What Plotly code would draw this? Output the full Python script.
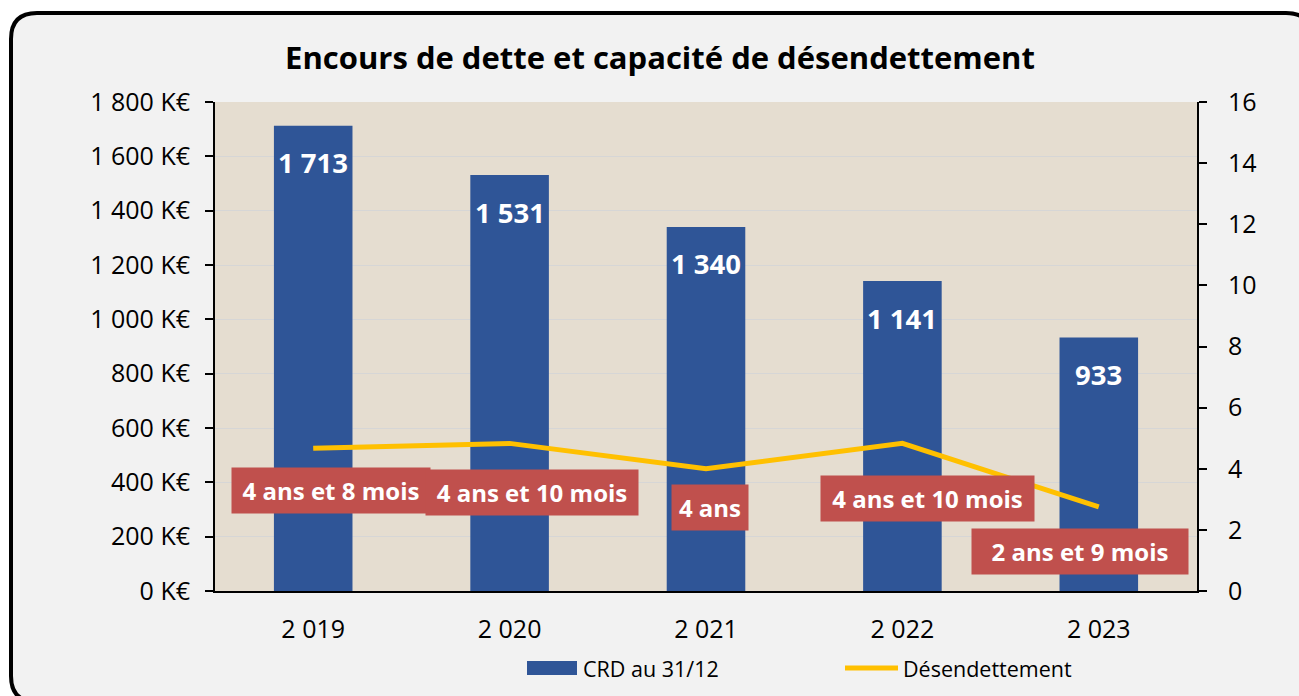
import plotly.graph_objects as go

# ---- data ----
years = ["2 019", "2 020", "2 021", "2 022", "2 023"]
crd = [1713, 1531, 1340, 1141, 933]
desendettement = [4.67, 4.83, 4.0, 4.83, 2.75]
desend_labels = ["4 ans et 8 mois", "4 ans et 10 mois", "4 ans", "4 ans et 10 mois", "2 ans et 9 mois"]
series_names = ["CRD au 31/12", "Désendettement"]

# ---- label layout (pixels) ----
label_shift_x = [18, 22, 4, 25, -19]
label_shift_y = [-42, -49, -39, -55, -45]
label_box_w = [198, 212, 76, 213, 216]

W, H = 1299, 696
ML, MR, MT, MB = 215, 102, 102, 105
PW, PH = W - ML - MR, H - MT - MB

FONT = "Open Sans"
BLUE = "#2f5597"
GOLD = "#ffc000"
PAD = 6

def px(x):
    return (x - ML) / PW

def py(y):
    return (H - MB - y) / PH

fig = go.Figure()
fig.add_trace(go.Bar(
    x=years, y=crd, name=series_names[0],
    marker=dict(color=BLUE, line=dict(width=0)),
    yaxis="y", hoverinfo="skip", showlegend=False,
))
fig.add_trace(go.Scatter(
    x=years, y=desendettement, name=series_names[1],
    mode="lines", line=dict(color=GOLD, width=5),
    yaxis="y2", hoverinfo="skip", showlegend=False,
))

annotations = []
for yr, v in zip(years, crd):
    annotations.append(dict(
        x=yr, y=v, xref="x", yref="y", text=f"{v:,}".replace(",", " "),
        showarrow=False, yshift=-37,
        font=dict(family=FONT, size=27.5, color="white", weight="bold"),
    ))
for yr, v, lab, dx, dy, bw in zip(years, desendettement, desend_labels,
                                  label_shift_x, label_shift_y, label_box_w):
    annotations.append(dict(
        x=yr, y=v, xref="x", yref="y2", text=lab,
        showarrow=False, xshift=dx, yshift=dy, width=bw - 2 * PAD, align="center",
        font=dict(family=FONT, size=24, color="white", weight="bold"),
        bgcolor="#c0504d", borderpad=PAD,
    ))

# manual legend
annotations.append(dict(x=px(581), y=py(668), xref="paper", yref="paper", text=series_names[0],
                        showarrow=False, xanchor="left", yanchor="middle",
                        font=dict(family=FONT, size=21.5, color="black")))
annotations.append(dict(x=px(901), y=py(668), xref="paper", yref="paper", text=series_names[1],
                        showarrow=False, xanchor="left", yanchor="middle",
                        font=dict(family=FONT, size=21.5, color="black")))

# rounded frame
L, T, R, B, r = 11, 13, 1312, 702, 26
def rr_path():
    return (f"M {px(L + r)} {py(T)} L {px(R - r)} {py(T)} "
            f"Q {px(R)} {py(T)} {px(R)} {py(T + r)} L {px(R)} {py(B - r)} "
            f"Q {px(R)} {py(B)} {px(R - r)} {py(B)} L {px(L + r)} {py(B)} "
            f"Q {px(L)} {py(B)} {px(L)} {py(B - r)} L {px(L)} {py(T + r)} "
            f"Q {px(L)} {py(T)} {px(L + r)} {py(T)} Z")

outer = f"M {px(-5)} {py(-5)} L {px(W + 20)} {py(-5)} L {px(W + 20)} {py(H + 20)} L {px(-5)} {py(H + 20)} Z "
shapes = [
    dict(type="path", xref="paper", yref="paper", path=outer + rr_path(),
         fillcolor="white", fillrule="evenodd", line=dict(width=0), layer="below"),
    dict(type="path", xref="paper", yref="paper", path=rr_path(),
         line=dict(color="black", width=4), layer="above"),
    dict(type="rect", xref="paper", yref="paper", x0=px(527), x1=px(577), y0=py(661), y1=py(675),
         fillcolor=BLUE, line=dict(width=0)),
    dict(type="line", xref="paper", yref="paper", x0=px(845), x1=px(898), y0=py(668), y1=py(668),
         line=dict(color=GOLD, width=5)),
]

fig.update_layout(
    width=W, height=H,
    margin=dict(l=ML, r=MR, t=MT, b=MB),
    paper_bgcolor="#f2f2f2",
    plot_bgcolor="#e5ddd0",
    separators=", ",
    font=dict(family=FONT, size=25, color="black"),
    title=dict(text="<b>Encours de dette et capacité de désendettement</b>",
               x=660 / W, xanchor="center", y=1 - 58 / H, yanchor="middle",
               font=dict(family=FONT, size=31, color="black")),
    bargap=0.6,
    showlegend=False,
    xaxis=dict(type="category", showline=True, linecolor="black", linewidth=2,
               ticks="", showgrid=False, tickfont=dict(size=25), ticklabelstandoff=15),
    yaxis=dict(range=[0, 1800], dtick=200, tickformat=",.0f", ticksuffix=" K€",
               showline=True, linecolor="black", linewidth=2, ticks="outside",
               ticklen=8, tickcolor="black", tickwidth=2,
               gridcolor="#d6d6d6", gridwidth=1, zeroline=False,
               tickfont=dict(size=25), ticklabelstandoff=10),
    yaxis2=dict(range=[0, 16], dtick=2, overlaying="y", side="right",
                showline=True, linecolor="black", linewidth=2, ticks="outside",
                ticklen=8, tickcolor="black", tickwidth=2, showgrid=False,
                zeroline=False, tickfont=dict(size=25), ticklabelstandoff=16),
    annotations=annotations,
    shapes=shapes,
)

fig.write_html("out.html", config={"displayModeBar": False},
               post_script="document.body.style.margin='0';")
